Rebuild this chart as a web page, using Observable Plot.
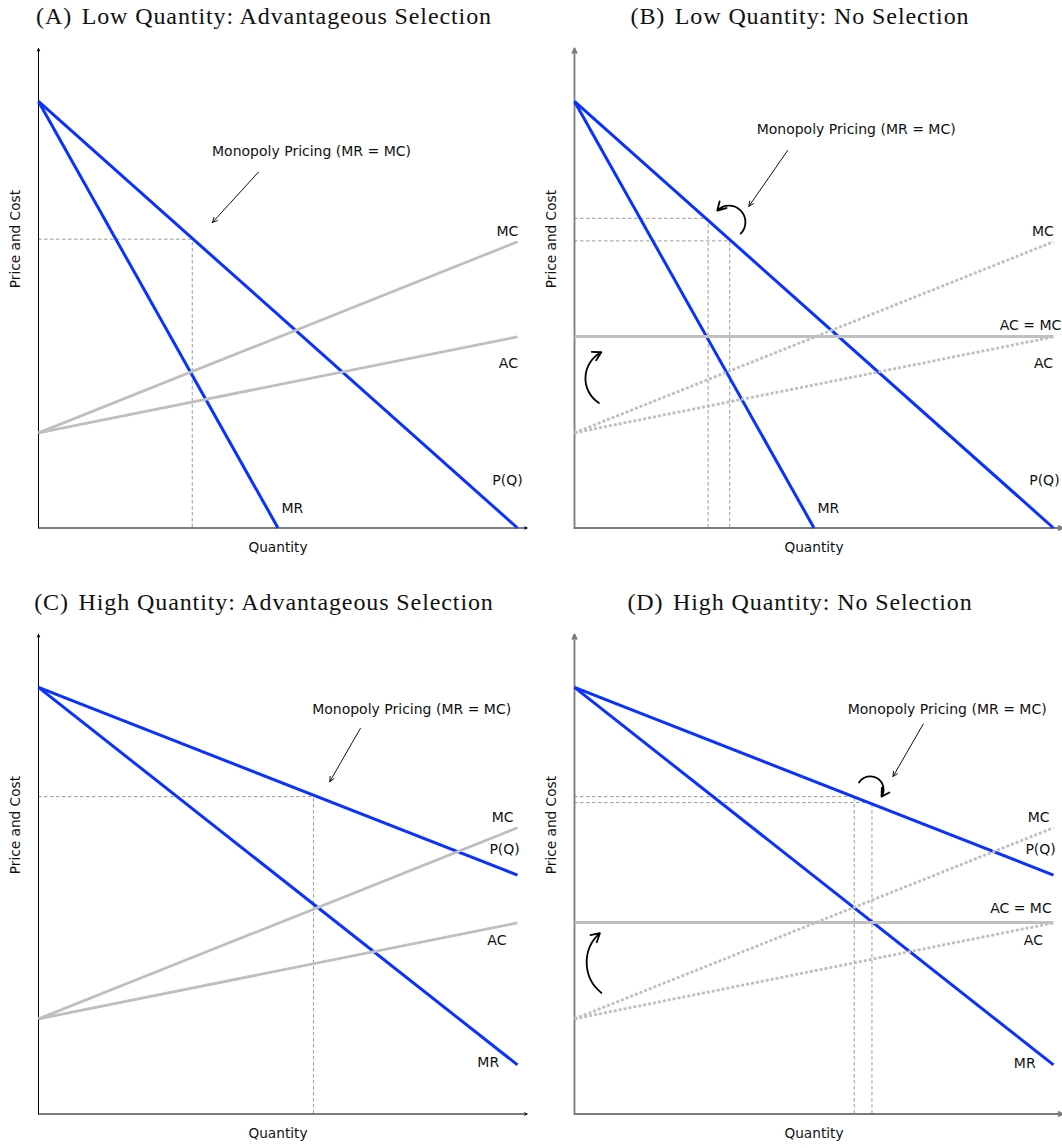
<!DOCTYPE html>
<html>
<head>
<meta charset="utf-8">
<script src="https://cdn.jsdelivr.net/npm/d3@7"></script>
<script src="https://cdn.jsdelivr.net/npm/@observablehq/plot@0.6"></script>
<style>
  html, body { margin: 0; padding: 0; background: #fff; overflow: hidden; width: 1062px; height: 1148px; }
  .panel { position: absolute; width: 536px; height: 586px; }
  .title { position: absolute; left: 0; top: 1px; width: 528px; text-align: center;
           font-family: "Liberation Serif", "DejaVu Serif", serif; font-size: 24px; line-height: 30px;
           letter-spacing: 0.9px; color: #111; white-space: nowrap; }
  .title .tag { margin-right: 0.4em; }
  .panel .chart { position: absolute; left: 0; top: 40px; }
</style>
</head>
<body>
<div id="root"></div>
<script>
// ---------- data (Q and P in normalized units: Q in [0,1], P intercept = 1) ----------
const panelTags = ["(A)", "(B)", "(C)", "(D)"];
const panelTitles = [
  "Low Quantity: Advantageous Selection",
  "Low Quantity: No Selection",
  "High Quantity: Advantageous Selection",
  "High Quantity: No Selection"
];
const xAxisLabel = "Quantity";
const yAxisLabel = "Price and Cost";

// demand and marginal revenue (end points)
const lowDemand  = [{q: 0, p: 1}, {q: 1, p: 0}];
const lowMR      = [{q: 0, p: 1}, {q: 0.5, p: 0}];
const highDemand = [{q: 0, p: 1}, {q: 1, p: 0.56}];
const highMR     = [{q: 0, p: 1}, {q: 1, p: 0.115}];

// costs
const mcCurve  = [{q: 0, p: 0.223}, {q: 1, p: 0.671}];
const acCurve  = [{q: 0, p: 0.223}, {q: 1, p: 0.448}];
const flatCost = [{q: 0, p: 0.449}, {q: 1, p: 0.449}];

// monopoly outcomes (dashed guide lines)
const monoA = [{q: 0.321, p: 0.677}];
const monoB = [{q: 0.279, p: 0.726}, {q: 0.324, p: 0.673}];
const monoC = [{q: 0.574, p: 0.744}];
const monoD = [{q: 0.584, p: 0.744}, {q: 0.621, p: 0.730}];

// curve labels
const labelsA = [
  {q: 0.979, p: 0.695, text: "MC"}, {q: 0.981, p: 0.386, text: "AC"},
  {q: 0.979, p: 0.111, text: "P(Q)"}, {q: 0.530, p: 0.046, text: "MR"},
  {q: 0.570, p: 0.883, text: "Monopoly Pricing (MR = MC)"}
];
const labelsB = [
  {q: 0.978, p: 0.694, text: "MC"}, {q: 0.952, p: 0.475, text: "AC = MC"},
  {q: 0.979, p: 0.385, text: "AC"}, {q: 0.981, p: 0.111, text: "P(Q)"},
  {q: 0.530, p: 0.046, text: "MR"},
  {q: 0.588, p: 0.934, text: "Monopoly Pricing (MR = MC)"}
];
const labelsC = [
  {q: 0.969, p: 0.696, text: "MC"}, {q: 0.973, p: 0.619, text: "P(Q)"},
  {q: 0.957, p: 0.406, text: "AC"}, {q: 0.939, p: 0.120, text: "MR"},
  {q: 0.779, p: 0.947, text: "Monopoly Pricing (MR = MC)"}
];
const labelsD = [
  {q: 0.969, p: 0.696, text: "MC"}, {q: 0.973, p: 0.619, text: "P(Q)"},
  {q: 0.932, p: 0.482, text: "AC = MC"}, {q: 0.958, p: 0.406, text: "AC"},
  {q: 0.940, p: 0.119, text: "MR"},
  {q: 0.778, p: 0.947, text: "Monopoly Pricing (MR = MC)"}
];

// straight pointers from the label
const pointerA = [{x1: 0.459, y1: 0.834, x2: 0.363, y2: 0.716}];
const pointerB = [{x1: 0.445, y1: 0.885, x2: 0.364, y2: 0.754}];
const pointerC = [{x1: 0.672, y1: 0.904, x2: 0.608, y2: 0.779}];
const pointerD = [{x1: 0.728, y1: 0.914, x2: 0.665, y2: 0.791}];

// curved arrows (shift indicators)
const hookB   = [{x1: 0.347, y1: 0.690, x2: 0.298, y2: 0.744}];
const upB     = [{x1: 0.051, y1: 0.293, x2: 0.056, y2: 0.412}];
const hookD   = [{x1: 0.594, y1: 0.777, x2: 0.641, y2: 0.744}];
const upD     = [{x1: 0.056, y1: 0.284, x2: 0.053, y2: 0.424}];

// axis extents
const axisArrows = [{x1: 0, y1: 0, x2: 1.02, y2: 0}, {x1: 0, y1: 0, x2: 0, y2: 1.124}];
const yTop = 1.124;

// ---------- drawing ----------
const BLUE = "#0a32ff";
const LIGHT = "#bfbfbf";
const GUIDE = "#8f8f8f";
const SANS = "DejaVu Sans, Verdana, sans-serif";

function panel(cfg) {
  const marks = [];
  // dashed guides
  marks.push(Plot.ruleY(cfg.mono, {y: "p", x1: 0, x2: "q", stroke: GUIDE, strokeWidth: 0.9, strokeDasharray: "3.5,2.5"}));
  marks.push(Plot.ruleX(cfg.mono, {x: "q", y1: 0, y2: "p", stroke: GUIDE, strokeWidth: 0.9, strokeDasharray: "3.5,2.5"}));
  // axes
  marks.push(Plot.arrow(axisArrows, {x1: "x1", y1: "y1", x2: "x2", y2: "y2",
    stroke: cfg.axisColor, strokeWidth: cfg.axisWidth, headLength: 4, headAngle: 50}));
  // demand and MR
  marks.push(Plot.line(cfg.demand, {x: "q", y: "p", stroke: BLUE, strokeWidth: 3, strokeLinecap: "butt"}));
  marks.push(Plot.line(cfg.mr, {x: "q", y: "p", stroke: BLUE, strokeWidth: 3, strokeLinecap: "butt"}));
  // costs
  const dash = cfg.dotted ? "3,2" : null;
  marks.push(Plot.line(mcCurve, {x: "q", y: "p", stroke: LIGHT, strokeWidth: 2.8, strokeDasharray: dash, strokeLinecap: "butt"}));
  marks.push(Plot.line(acCurve, {x: "q", y: "p", stroke: LIGHT, strokeWidth: 2.8, strokeDasharray: dash, strokeLinecap: "butt"}));
  if (cfg.flat) marks.push(Plot.line(flatCost, {x: "q", y: "p", stroke: LIGHT, strokeWidth: 3, strokeLinecap: "butt"}));
  // labels
  marks.push(Plot.text(cfg.labels, {x: "q", y: "p", text: "text", fontSize: 14, fontFamily: SANS, fill: "#111"}));
  // pointer
  marks.push(Plot.arrow(cfg.pointer, {x1: "x1", y1: "y1", x2: "x2", y2: "y2", stroke: "#111", strokeWidth: 1, headLength: 8, headAngle: 50}));
  if (cfg.hook) marks.push(Plot.arrow(cfg.hook, {x1: "x1", y1: "y1", x2: "x2", y2: "y2", stroke: "#000", strokeWidth: 1.8, headLength: 8, headAngle: 60, bend: cfg.hookBend}));
  if (cfg.up) marks.push(Plot.arrow(cfg.up, {x1: "x1", y1: "y1", x2: "x2", y2: "y2", stroke: "#000", strokeWidth: 1.8, headLength: 8, headAngle: 60, bend: cfg.upBend}));
  // axis titles
  marks.push(Plot.text([xAxisLabel], {text: d => d, frameAnchor: "bottom", dy: 24, fontSize: 13.7, fontFamily: SANS, fill: "#111"}));
  marks.push(Plot.text([yAxisLabel], {text: d => d, frameAnchor: "left", dx: -23, rotate: -90, fontSize: 13.7, fontFamily: SANS, fill: "#111"}));

  return Plot.plot({
    width: 536, height: 530,
    marginLeft: 38, marginRight: 19, marginTop: 8, marginBottom: 42.5,
    x: {domain: [0, 1], axis: null},
    y: {domain: [0, yTop], axis: null},
    style: {overflow: "visible", maxWidth: "none", background: "transparent"},
    marks
  });
}

const configs = [
  {left: 0, top: 0, demand: lowDemand, mr: lowMR, mono: monoA, labels: labelsA, pointer: pointerA,
   axisColor: "#000", axisWidth: 1, dotted: false},
  {left: 536, top: 0, demand: lowDemand, mr: lowMR, mono: monoB, labels: labelsB, pointer: pointerB,
   axisColor: "#7a7a7a", axisWidth: 1.8, dotted: true, flat: true, hook: hookB, hookBend: -100, up: upB, upBend: 60},
  {left: 0, top: 586, demand: highDemand, mr: highMR, mono: monoC, labels: labelsC, pointer: pointerC,
   axisColor: "#000", axisWidth: 1, dotted: false},
  {left: 536, top: 586, demand: highDemand, mr: highMR, mono: monoD, labels: labelsD, pointer: pointerD,
   axisColor: "#7a7a7a", axisWidth: 1.8, dotted: true, flat: true, hook: hookD, hookBend: 100, up: upD, upBend: 50}
];

const root = document.getElementById("root");
configs.forEach((cfg, i) => {
  const div = document.createElement("div");
  div.className = "panel";
  div.style.left = cfg.left + "px";
  div.style.top = cfg.top + "px";
  const t = document.createElement("div");
  t.className = "title";
  const tag = document.createElement("span");
  tag.className = "tag";
  tag.textContent = panelTags[i];
  t.appendChild(tag);
  t.appendChild(document.createTextNode(panelTitles[i]));
  div.appendChild(t);
  const chart = panel(cfg);
  chart.classList.add("chart");
  div.appendChild(chart);
  root.appendChild(div);
});
</script>
</body>
</html>
